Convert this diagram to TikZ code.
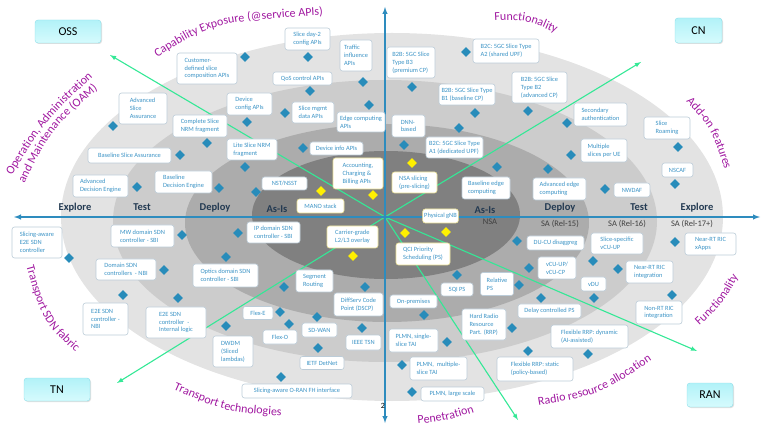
\documentclass[tikz,border=0pt]{standalone}
\usepackage{fontspec}
\setmainfont{Carlito}
\usepackage{xcolor}
\usepackage{tikz}
\usetikzlibrary{shapes.geometric,shadows,decorations.text}

\definecolor{ringexplore}{RGB}{227,227,227}
\definecolor{ringtest}{RGB}{204,204,204}
\definecolor{ringdeploy}{RGB}{172,172,172}
\definecolor{ringasis}{RGB}{128,128,128}
\definecolor{axisblue}{RGB}{46,140,190}
\definecolor{spokegreen}{RGB}{52,232,150}
\definecolor{itemtext}{RGB}{60,148,198}
\definecolor{itemline}{RGB}{188,204,216}
\definecolor{asisline}{RGB}{236,226,150}
\definecolor{dmdblue}{RGB}{40,140,186}
\definecolor{dmdyellow}{RGB}{255,240,0}
\definecolor{labelpurple}{RGB}{160,24,160}
\definecolor{stagetext}{RGB}{35,58,82}
\definecolor{domtop}{RGB}{178,242,248}
\definecolor{dombottom}{RGB}{214,251,253}
\definecolor{domline}{RGB}{140,222,234}

\newcommand{\catfont}{\color{labelpurple}\fontsize{12}{12}\selectfont}

\tikzset{
	item/.style={draw=itemline, fill=white, rounded corners=2.5pt, line width=0.6pt,
		text=itemtext, font=\fontsize{6.4}{7.9}\selectfont, align=left, inner sep=1.5pt},
	asisitem/.style={item, draw=asisline},
	sz/.style 2 args={minimum width=#1pt, minimum height=#2pt},
	dmd/.style={shape=diamond, fill=dmdblue, minimum width=10pt, minimum height=10pt, inner sep=0pt},
	ydmd/.style={dmd, fill=dmdyellow},
	domainbox/.style={draw=domline, rounded corners=3pt, top color=domtop, bottom color=dombottom,
		drop shadow={opacity=0.25, shadow xshift=1pt, shadow yshift=-1pt},
		font=\fontsize{12}{12}\selectfont, text=black},
	stage/.style={font=\fontsize{10.5}{10.5}\selectfont\bfseries, text=stagetext},
	release/.style={font=\fontsize{8.5}{8.5}\selectfont, text=black!75},
	spoke/.style={draw=spokegreen, line width=1.1pt, -latex},
	axisline/.style={draw=axisblue, line width=1.4pt, latex-latex},
	catlabel/.style={decorate, decoration={text along path, text={|\catfont|#1}, text align=center}}
}

\begin{document}
\begin{tikzpicture}[x=1pt,y=-1pt]
	\useasboundingbox (0,0) rectangle (765,435);
	
	% maturity rings
	\fill[ringexplore] (392,217) ellipse [x radius=331pt, y radius=184pt];
	\fill[ringtest] (385,221) ellipse [x radius=272pt, y radius=141pt];
	\fill[ringdeploy] (387,223) ellipse [x radius=202pt, y radius=99pt];
	\fill[ringasis] (386,215) ellipse [x radius=134pt, y radius=64pt];
	
	\coordinate (c) at (385,217);
	\coordinate (tOSS) at (110,55);
	\coordinate (tCN) at (641,62);
	\coordinate (tTN) at (117,383);
	\coordinate (tRAN) at (697,351);
	\coordinate (tRRA) at (518,420);
	\coordinate (axW) at (14,217);
	\coordinate (axE) at (760,217);
	\coordinate (axN) at (385,7);
	\coordinate (axS) at (385,423);
	
	\draw[spoke] (c) -- (tOSS);
	\draw[spoke] (c) -- (tCN);
	\draw[spoke] (c) -- (tTN);
	\draw[spoke] (c) -- (tRAN);
	\draw[spoke] (c) -- (tRRA);
	
	\draw[axisline] (axW) -- (axE);
	\draw[axisline] (axN) -- (axS);
	
	% stages
	\node[stage] (explL) at (75,208) {Explore};
	\node[stage] (testL) at (142,207) {Test};
	\node[stage] (deployL) at (215,208) {Deploy};
	\node[stage] (asisL) at (277,209) {As-Is};
	\node[stage] (asisR) at (485,210) {As-Is};
	\node[stage] (deployR) at (560,208) {Deploy};
	\node[stage] (testR) at (639,207) {Test};
	\node[stage] (explR) at (697,208) {Explore};
	\node[release] (nsa) at (490,222) {NSA};
	\node[release] (rel15) at (560,224) {SA (Rel-15)};
	\node[release] (rel16) at (627,224) {SA (Rel-16)};
	\node[release] (rel17) at (692,224) {SA (Rel-17+)};
	
	% OAM and capability exposure
	\node[item,sz={60}{31}] (custapi) at (207,68.5) {Customer-\\defined slice\\composition APIs};
	\node[dmd] (custapi-d) at (245,57) {};
	\node[item,sz={48}{31}] (advassur) at (143,108.5) {Advanced\\Slice\\Assurance};
	\node[dmd] (advassur-d) at (113,126) {};
	\node[item,sz={54}{22}] (cplnrm) at (200,126) {Complete Slice\\NRM fragment};
	\node[dmd] (cplnrm-d) at (207,143) {};
	\node[item,sz={45}{22}] (devcfg) at (249.5,104) {Device\\config APIs};
	\node[dmd] (devcfg-d) at (247,122) {};
	\node[item,sz={50}{21}] (litenrm) at (252,149.5) {Lite Slice NRM\\fragment};
	\node[dmd] (litenrm-d) at (245,167) {};
	\node[item,sz={45}{22}] (day2) at (307.5,39) {Slice day-2\\config APIs};
	\node[dmd] (day2-d) at (308,57) {};
	\node[item,sz={32}{31}] (trinf) at (356,55.5) {Traffic\\influence\\APIs};
	\node[dmd] (trinf-d) at (363,82) {};
	\node[item,sz={59}{13}] (qosapi) at (302.5,78.5) {QoS control APIs};
	\node[dmd] (qosapi-d) at (310,91) {};
	\node[item,sz={42}{21}] (mgmtapi) at (313,112.5) {Slice mgmt\\data APIs};
	\node[dmd] (mgmtapi-d) at (285,113) {};
	\node[item,sz={48}{20}] (edgeapi) at (361,122) {Edge computing\\APIs};
	\node[dmd] (edgeapi-d) at (369,105) {};
	\node[item,sz={53}{13}] (infoapi) at (336.5,148.5) {Device info APIs};
	\node[dmd] (infoapi-d) at (303,148) {};
	\node[item,sz={83}{15}] (baseassur) at (129.5,155.5) {Baseline Slice Assurance};
	\node[dmd] (baseassur-d) at (180,155) {};
	\node[item,sz={55}{22}] (advde) at (100.5,186) {Advanced\\Decision Engine};
	\node[dmd] (advde-d) at (137,187) {};
	\node[item,sz={57}{22}] (basede) at (183.5,182) {Baseline\\Decision Engine};
	\node[dmd] (basede-d) at (219,188) {};
	\node[item,sz={45}{13}] (nst) at (284.5,183.5) {NST/NSST};
	\node[dmd] (nst-d) at (256,192) {};
	\node[asisitem,sz={47}{14}] (mano) at (320.5,206) {MANO stack};
	\node[ydmd] (mano-d) at (321,191) {};
	\node[asisitem,sz={50}{31}] (acct) at (358,173.5) {Accounting,\\Charging \&\\Billing APIs};
	\node[ydmd] (acct-d) at (373,195) {};
	
	% core network
	\node[item,sz={48}{31}] (b3) at (411,62.5) {B2B: 5GC Slice\\Type B3\\(premium CP)};
	\node[dmd] (b3-d) at (412,87) {};
	\node[item,sz={66}{24}] (a2) at (506,51) {B2C: 5GC Slice Type\\A2 (shared UPF)};
	\node[dmd] (a2-d) at (466,52) {};
	\node[item,sz={56}{21}] (b1) at (467,94.5) {B2B: 5GC Slice Type\\B1 (baseline CP)};
	\node[dmd] (b1-d) at (475,113) {};
	\node[item,sz={55}{31}] (b2) at (539.5,87.5) {B2B: 5GC Slice\\Type B2\\(advanced CP)};
	\node[dmd] (b2-d) at (528,111) {};
	\node[item,sz={33}{22}] (dnn) at (408.5,126) {DNN-\\based};
	\node[dmd] (dnn-d) at (404,145) {};
	\node[item,sz={57}{21}] (a1) at (454.5,147.5) {B2C: 5GC Slice Type\\A1 (dedicated UPF)};
	\node[dmd] (a1-d) at (459,128) {};
	\node[item,sz={53}{23}] (secauth) at (600.5,114.5) {Secondary\\authentication};
	\node[dmd] (secauth-d) at (567,123) {};
	\node[item,sz={46}{22}] (roam) at (667,128) {Slice\\Roaming};
	\node[dmd] (roam-d) at (678,147) {};
	\node[item,sz={46}{23}] (multi) at (604,150.5) {Multiple\\slices per UE};
	\node[dmd] (multi-d) at (571,155) {};
	\node[item,sz={31}{14}] (nscaf) at (677.5,170) {NSCAF};
	\node[dmd] (nscaf-d) at (675,184) {};
	\node[item,sz={53}{22}] (advedge) at (559.5,189) {Advanced edge\\computing};
	\node[dmd] (advedge-d) at (548,169) {};
	\node[item,sz={36}{14}] (nwdaf) at (632,190) {NWDAF};
	\node[dmd] (nwdaf-d) at (605,189) {};
	\node[item,sz={48}{22}] (basedge) at (486,188) {Baseline edge\\computing};
	\node[dmd] (basedge-d) at (497,167) {};
	\node[asisitem,sz={45}{21}] (nsasl) at (414.5,182.5) {NSA slicing\\(pre-slicing)};
	\node[ydmd] (nsasl-d) at (412,163) {};
	
	% transport network
	\node[item,sz={50}{31}] (e2eaware) at (37,242.5) {Slicing-aware\\E2E SDN\\controller};
	\node[dmd] (e2eaware-d) at (69,258) {};
	\node[item,sz={63}{22}] (mwsdn) at (142.5,236) {MW domain SDN\\controller - SBI};
	\node[dmd] (mwsdn-d) at (182,235) {};
	\node[item,sz={60}{21}] (domnbi) at (126,269.5) {Domain SDN\\controllers~~- NBI};
	\node[dmd] (domnbi-d) at (164,270) {};
	\node[item,sz={53}{21}] (ipsdn) at (273.5,232.5) {IP domain SDN\\controller - SBI};
	\node[dmd] (ipsdn-d) at (238,233) {};
	\node[item,sz={65}{23}] (optsdn) at (225.5,275.5) {Optics domain SDN\\controller - SBI};
	\node[dmd] (optsdn-d) at (226,257) {};
	\node[item,sz={45}{32}] (e2enbi) at (105.5,319) {E2E SDN\\controller -\\NBI};
	\node[dmd] (e2enbi-d) at (123,295) {};
	\node[item,sz={60}{31}] (e2eint) at (176,322.5) {E2E SDN\\controller~~-\\Internal logic};
	\node[dmd] (e2eint-d) at (178,298) {};
	\node[item,sz={40}{31}] (dwdm) at (233,351.5) {DWDM\\(Sliced\\lambdas)};
	\node[dmd] (dwdm-d) at (226,326) {};
	\node[asisitem,sz={51}{22}] (carrier) at (352.5,237) {Carrier-grade\\L2/L3 overlay};
	\node[ydmd] (carrier-d) at (353,256) {};
	\node[item,sz={37}{22}] (segrt) at (314.5,281) {Segment\\Routing};
	\node[dmd] (segrt-d) at (284,287) {};
	\node[item,sz={30}{13}] (flexe) at (258,313) {Flex-E};
	\node[dmd] (flexe-d) at (280,312) {};
	\node[item,sz={34}{14}] (flexo) at (280,337) {Flex-O};
	\node[dmd] (flexo-d) at (289,324) {};
	\node[item,sz={35}{14}] (sdwan) at (319.5,330) {SD-WAN};
	\node[dmd] (sdwan-d) at (317,317) {};
	\node[item,sz={49}{23}] (dscp) at (358.5,304.5) {DiffServ Code\\Point (DSCP)};
	\node[dmd] (dscp-d) at (365,287) {};
	\node[item,sz={35}{15}] (tsn) at (363.5,342.5) {IEEE TSN};
	\node[dmd] (tsn-d) at (362,328) {};
	\node[item,sz={44}{13}] (detnet) at (322,363) {IETF DetNet};
	\node[dmd] (detnet-d) at (318,348) {};
	\node[item,sz={110}{14}] (oranfh) at (297,391) {Slicing-aware O-RAN FH interface};
	\node[dmd] (oranfh-d) at (281,377) {};
	
	% radio access network
	\node[asisitem,sz={35}{14}] (gnb) at (440.5,216) {Physical gNB};
	\node[ydmd] (gnb-d) at (446,232) {};
	\node[asisitem,sz={54}{22}] (qci) at (423,254) {QCI Priority\\Scheduling (PS)};
	\node[ydmd] (qci-d) at (405,233) {};
	\node[item,sz={32}{13}] (fiveqi) at (457,289.5) {5QI PS};
	\node[dmd] (fiveqi-d) at (457,275) {};
	\node[item,sz={33}{23}] (relps) at (497,284) {Relative\\PS};
	\node[dmd] (relps-d) at (519,285) {};
	\node[item,sz={57}{14}] (ducu) at (555.5,243) {DU-CU disaggreg};
	\node[dmd] (ducu-d) at (517,241) {};
	\node[item,sz={38}{22}] (vcu) at (557,268) {vCU-UP/\\vCU-CP};
	\node[dmd] (vcu-d) at (529,268) {};
	\node[item,sz={52}{21}] (slvcu) at (617,243.5) {Slice-specific\\vCU-UP};
	\node[dmd] (slvcu-d) at (593,261) {};
	\node[item,sz={47}{22}] (nrtric) at (649.5,272) {Near-RT RIC\\integration};
	\node[dmd] (nrtric-d) at (618,269) {};
	\node[item,sz={25}{14}] (vdu) at (593.5,284) {vDU};
	\node[dmd] (vdu-d) at (594,298) {};
	\node[item,sz={51}{22}] (xapps) at (710.5,244) {Near-RT RIC\\xApps};
	\node[dmd] (xapps-d) at (675,242) {};
	\node[item,sz={63}{14}] (delayps) at (549.5,311) {Delay controlled PS};
	\node[dmd] (delayps-d) at (541,298) {};
	\node[item,sz={46}{23}] (nonrt) at (659,312.5) {Non-RT RIC\\integration};
	\node[dmd] (nonrt-d) at (672,295) {};
	\node[item,sz={77}{23}] (rrpdyn) at (589.5,336.5) {Flexible RRP: dynamic\\(AI-assisted)};
	\node[dmd] (rrpdyn-d) at (588,354) {};
	\node[item,sz={76}{24}] (rrpsta) at (535,369) {Flexible RRP: static\\(policy-based)};
	\node[dmd] (rrpsta-d) at (528,351) {};
	\node[item,sz={44}{31}] (hrrp) at (484,324.5) {Hard Radio\\Resource\\Part. (RRP)};
	\node[dmd] (hrrp-d) at (512,328) {};
	\node[item,sz={47}{13}] (onprem) at (413.5,301.5) {On-premises};
	\node[dmd] (onprem-d) at (424,315) {};
	\node[item,sz={49}{23}] (plmn1) at (413.5,340.5) {PLMN, single-\\slice TAI};
	\node[dmd] (plmn1-d) at (447,342) {};
	\node[item,sz={57}{23}] (plmnm) at (438.5,368.5) {PLMN,~~multiple-\\slice TAI};
	\node[dmd] (plmnm-d) at (402,365) {};
	\node[item,sz={63}{14}] (plmnl) at (452.5,394) {PLMN, large scale};
	\node[dmd] (plmnl-d) at (412,392) {};
	
	% domains
	\node[domainbox,minimum width=66pt,minimum height=23pt] (oss) at (68,31.5) {OSS};
	\node[domainbox,minimum width=47pt,minimum height=25pt] (cn) at (698.5,30.5) {CN};
	\node[domainbox,minimum width=66pt,minimum height=23pt] (tn) at (57,389.5) {TN};
	\node[domainbox,minimum width=46pt,minimum height=24pt] (ran) at (710,395) {RAN};
	
	% dimension labels
	\path[catlabel={Capability Exposure (@service APIs)}] (153,60) .. controls (213,22) .. (328,15);
	\path[catlabel={Functionality}] (490,21) .. controls (525,19) .. (560,35);
	\path[catlabel={Add-on features}] (683,98) .. controls (712,130) .. (726,174);
	\path[catlabel={Functionality}] (694,331) .. controls (723,304) .. (742,270);
	\path[catlabel={Radio resource allocation}] (535,406) .. controls (600,395) .. (655,358);
	\path[catlabel={Penetration}] (414,424) .. controls (446,421) .. (478,411);
	\path[catlabel={Transport technologies}] (171,388) .. controls (225,412) .. (284,416);
	\path[catlabel={Transport SDN fabric}] (24,258) .. controls (42,322) .. (82,358);
	\path[catlabel={Operation, Administration}] (9,180) .. controls (46,120) .. (97,73);
	\path[catlabel={and Maintenance (OAM)}] (22,188) .. controls (52,128) .. (102,86);
	
	\node[font=\fontsize{8}{8}\selectfont] (page) at (383,406) {2};
\end{tikzpicture}
\end{document}
